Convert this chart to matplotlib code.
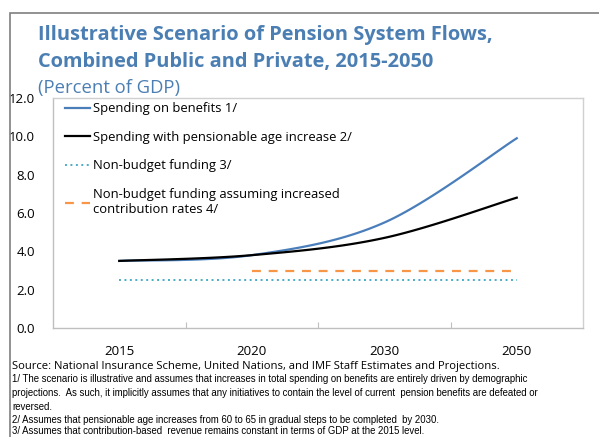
import numpy as np
import matplotlib
matplotlib.use("Agg")
import matplotlib.pyplot as plt
from matplotlib.patches import Rectangle

years = ["2015", "2020", "2030", "2050"]
spending_benefits = [3.5, 3.8, 5.5, 9.9]
spending_age_increase = [3.5, 3.8, 4.7, 6.8]
non_budget = [2.5, 2.5, 2.5, 2.5]
non_budget_increased = [None, 3.0, 3.0, 3.0]
y_ticks = [0.0, 2.0, 4.0, 6.0, 8.0, 10.0, 12.0]

BLUE = "#4a7ebb"
TITLE_BLUE = "#4b7fb3"
TEAL = "#4bacc6"
ORANGE = "#f79646"


def smooth(xs, ys, n=40):
    """Bezier smoothing through points (Catmull-Rom style, tension 1/6)."""
    pts = np.column_stack([xs, ys]).astype(float)
    out = []
    m = len(pts)
    for i in range(m - 1):
        p0 = pts[i - 1] if i > 0 else pts[i]
        p1 = pts[i]
        p2 = pts[i + 1]
        p3 = pts[i + 2] if i + 2 < m else pts[i + 1]
        c1 = p1 + (p2 - p0) / 6.0
        c2 = p2 - (p3 - p1) / 6.0
        t = np.linspace(0, 1, n)[:, None]
        seg = ((1 - t) ** 3) * p1 + 3 * ((1 - t) ** 2) * t * c1 + 3 * (1 - t) * t ** 2 * c2 + t ** 3 * p2
        out.append(seg if i == 0 else seg[1:])
    seg = np.vstack(out)
    return seg[:, 0], seg[:, 1]


plt.rcParams["font.family"] = ["Open Sans", "DejaVu Sans"]

fig = plt.figure(figsize=(5.99, 4.37), dpi=100)

# outer frame
fig.patches.append(Rectangle((10 / 599, -0.1), 1.2, 1 - 13 / 437 + 0.1,
                             transform=fig.transFigure, fill=False,
                             edgecolor="#7f7f7f", linewidth=1.2))

ax = fig.add_axes([53 / 599, 1 - 328 / 437, (583 - 53) / 599, (328 - 98) / 437])

xs = np.arange(len(years))

bx, by = smooth(xs, spending_benefits)
ax.plot(bx, by, color=BLUE, linewidth=1.6, label="Spending on benefits 1/")
kx, ky = smooth(xs, spending_age_increase)
ax.plot(kx, ky, color="black", linewidth=1.6,
        label="Spending with pensionable age increase 2/")
ax.plot(xs, non_budget, color=TEAL, linewidth=1.4, linestyle=(0, (1, 1.8)),
        label="Non-budget funding 3/")
nb_x = [x for x, v in zip(xs, non_budget_increased) if v is not None]
nb_y = [v for v in non_budget_increased if v is not None]
ax.plot(nb_x, nb_y, color=ORANGE, linewidth=1.6, linestyle=(0, (4, 3.5)),
        label="Non-budget funding assuming increased\ncontribution rates 4/")

ax.set_xlim(-0.5, len(years) - 0.5)
ax.set_ylim(0, 12)
ax.set_yticks(y_ticks)
ax.set_yticklabels([f"{v:.1f}" for v in y_ticks], fontsize=9.5)
ax.tick_params(axis="y", length=0, pad=13)

ax.set_xticks(np.arange(len(years) - 1) + 0.5)
ax.set_xticklabels([])
ax.tick_params(axis="x", which="major", direction="in", length=4, color="#bfbfbf")
ax.set_xticks(xs, minor=True)
ax.set_xticklabels(years, minor=True, fontsize=9.5)
ax.tick_params(axis="x", which="minor", length=0, pad=12)

for s in ax.spines.values():
    s.set_color("#d0d0d0")
    s.set_linewidth(1.0)
ax.spines["left"].set_color("#bfbfbf")
ax.spines["bottom"].set_color("#bfbfbf")

leg = ax.legend(loc="upper left", frameon=False, fontsize=9.4, handlelength=1.95,
                handletextpad=0.25, labelspacing=1.2, borderaxespad=0.0,
                bbox_to_anchor=(0.012, 1.005))

fig.text(38 / 599, 1 - 35 / 437, "Illustrative Scenario of Pension System Flows,",
         fontsize=14.4, fontweight="bold", color=TITLE_BLUE, va="center")
fig.text(38 / 599, 1 - 62 / 437, "Combined Public and Private, 2015-2050",
         fontsize=14.4, fontweight="bold", color=TITLE_BLUE, va="center")
fig.text(38 / 599, 1 - 88 / 437, "(Percent of GDP)", fontsize=13.3,
         color=TITLE_BLUE, va="center")

fig.text(12 / 599, 1 - 366 / 437,
         "Source: National Insurance Scheme, United Nations, and IMF Staff Estimates and Projections.",
         fontsize=8.1, va="center")
notes = [
    (379, "1/ The scenario is illustrative and assumes that increases in total spending on benefits are entirely driven by demographic"),
    (393, "projections.  As such, it implicitly assumes that any initiatives to contain the level of current  pension benefits are defeated or"),
    (407, "reversed."),
    (420, "2/ Assumes that pensionable age increases from 60 to 65 in gradual steps to be completed  by 2030."),
    (430.5, "3/ Assumes that contribution-based  revenue remains constant in terms of GDP at the 2015 level."),
]
for y, t in notes:
    fig.text(12 / 599, 1 - y / 437, t, fontsize=6.95, va="center",
             family=["Liberation Sans", "DejaVu Sans"])

fig.savefig("out.png", dpi=100)
